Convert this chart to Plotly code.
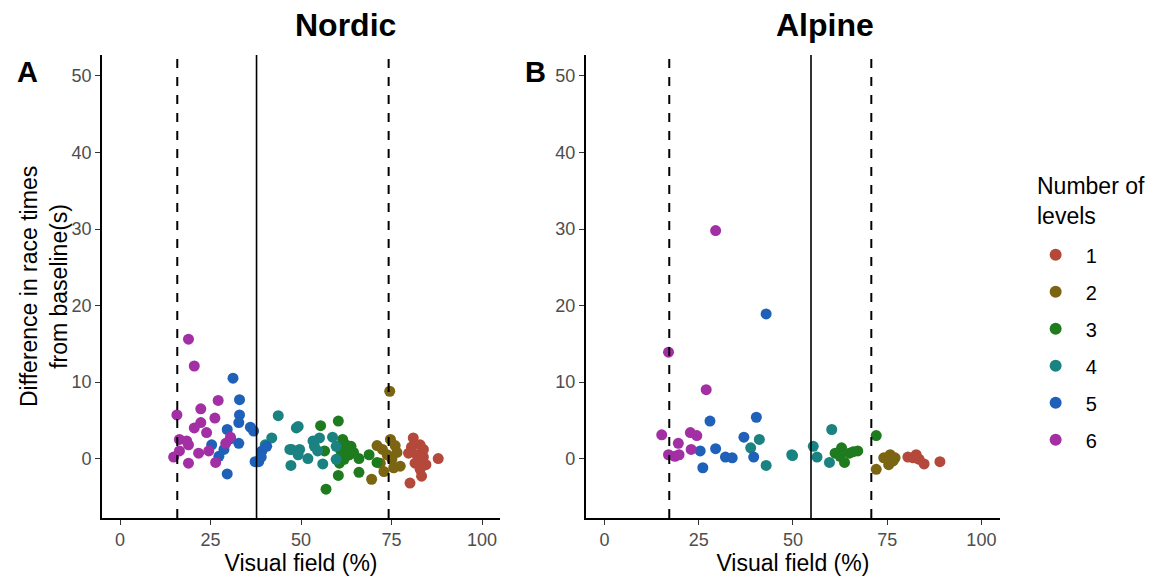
import plotly.graph_objects as go

levels = ["1", "2", "3", "4", "5", "6"]
colors = ["#b4493b", "#7b6513", "#1e7b1e", "#1b8282", "#1f60b8", "#a22fa3"]

# Nordic (panel A): visual field (%) and race time difference (s) per number of levels
nordic_x = {
    "1": [81.0, 82.9, 83.8, 79.7, 82.0, 82.9, 81.5, 87.9, 83.3, 80.1, 82.9, 83.8, 84.5, 80.5],
    "2": [74.5, 71.0, 74.7, 76.0, 73.8, 75.1, 77.4, 72.9, 69.5, 75.6, 71.9, 76.5, 72.5],
    "3": [55.4, 60.3, 56.9, 60.3, 61.5, 62.4, 63.8, 63.3, 61.9, 66.0, 66.0, 68.8, 71.0, 56.5, 61.0, 60.6, 64.5],
    "4": [43.7, 41.9, 40.1, 47.2, 46.9, 48.7, 49.2, 47.4, 49.6, 49.2, 51.9, 53.3, 55.1, 54.6, 56.0, 58.7, 59.7, 59.7, 53.7],
    "5": [31.2, 33.0, 33.0, 32.8, 29.6, 36.0, 36.9, 25.3, 28.7, 32.8, 27.3, 29.6, 38.3, 39.2, 40.5, 37.3, 39.0, 30.5],
    "6": [18.9, 20.5, 15.7, 27.1, 22.3, 26.2, 22.3, 20.5, 23.9, 16.4, 18.4, 18.9, 14.8, 16.4, 21.7, 18.9, 26.4, 29.2, 30.5, 24.5],
}
nordic_y = {
    "1": [2.7, 1.8, 1.2, 0.7, 0.5, -0.1, -0.6, 0.0, -2.3, -3.2, -1.4, 0.2, -0.8, 1.5],
    "2": [8.8, 1.7, 2.5, 1.7, 0.5, -0.1, -1.0, -1.7, -2.7, -1.2, -0.6, 0.8, 1.2],
    "3": [4.3, 4.9, -4.0, -2.2, 2.5, 1.8, 1.6, 0.5, -0.1, 0.0, -1.8, 0.5, -0.5, 1.0, 1.0, -0.6, 0.8],
    "4": [5.6, 2.7, 1.8, -0.9, 1.2, 4.0, 4.2, 1.2, 1.2, 0.5, 0.0, 2.3, 2.7, 1.0, -0.7, 2.8, 1.6, -0.1, 1.6],
    "5": [10.5, 7.7, 5.7, 4.7, 3.8, 4.1, 3.6, 1.8, 1.2, 2.0, 0.3, -2.0, -0.4, 1.0, 1.6, -0.4, 0.2, 2.6],
    "6": [15.6, 12.1, 5.7, 7.6, 6.5, 5.3, 4.7, 4.0, 3.4, 2.5, 2.3, 1.8, 0.2, 1.0, 0.7, -0.6, -0.5, 2.0, 2.8, 1.0],
}

# Alpine (panel B)
alpine_x = {
    "1": [80.5, 82.7, 83.5, 84.8, 89.0, 81.9],
    "2": [72.1, 74.1, 75.8, 77.1, 75.4, 76.6],
    "3": [62.9, 61.2, 63.7, 65.0, 67.2, 66.0, 72.1, 62.5],
    "4": [41.1, 38.8, 42.9, 49.9, 49.7, 55.4, 60.3, 56.4, 59.7],
    "5": [42.9, 28.0, 40.3, 37.0, 25.4, 29.5, 32.1, 33.9, 39.6, 26.1],
    "6": [29.5, 17.0, 27.0, 15.2, 22.8, 24.5, 19.6, 23.0, 17.0, 18.7, 19.8],
}
alpine_y = {
    "1": [0.2, 0.5, -0.1, -0.7, -0.4, 0.1],
    "2": [-1.4, 0.1, 0.5, 0.1, -0.8, -0.3],
    "3": [1.4, 0.7, -0.5, 0.7, 1.0, 0.9, 3.0, 0.3],
    "4": [2.5, 1.4, -0.9, 0.4, 0.5, 1.6, 3.8, 0.2, -0.5],
    "5": [18.9, 4.9, 5.4, 2.8, 1.0, 1.3, 0.2, 0.1, 0.2, -1.2],
    "6": [29.8, 13.9, 9.0, 3.1, 3.4, 3.0, 2.0, 1.2, 0.5, 0.3, 0.5],
}

nordic_lines = {"dashed": [15.8, 74.2], "solid": [37.7]}
alpine_lines = {"dashed": [17.2, 70.8], "solid": [54.8]}

x_ticks = [0, 25, 50, 75, 100]
y_ticks = [0, 10, 20, 30, 40, 50]

FONT = "Liberation Sans, Arial, sans-serif"

fig = go.Figure()
for i, lv in enumerate(levels):
    fig.add_trace(go.Scatter(
        x=nordic_x[lv], y=nordic_y[lv], mode="markers", name=lv,
        legendgroup=lv, showlegend=True,
        marker=dict(color=colors[i], size=11, line=dict(width=0)),
        xaxis="x", yaxis="y"))
    fig.add_trace(go.Scatter(
        x=alpine_x[lv], y=alpine_y[lv], mode="markers", name=lv,
        legendgroup=lv, showlegend=False,
        marker=dict(color=colors[i], size=11, line=dict(width=0)),
        xaxis="x2", yaxis="y2"))

shapes = []
for xr, yr, lines in [("x", "y domain", nordic_lines), ("x2", "y2 domain", alpine_lines)]:
    for v in lines["dashed"]:
        shapes.append(dict(type="line", xref=xr, yref=yr, x0=v, x1=v, y0=0, y1=1,
                           line=dict(color="black", width=2, dash="dash")))
    for v in lines["solid"]:
        shapes.append(dict(type="line", xref=xr, yref=yr, x0=v, x1=v, y0=0, y1=1,
                           line=dict(color="black", width=1.6)))

axis_common = dict(
    showgrid=False, zeroline=False, showline=True, linecolor="black", linewidth=1.5,
    ticks="outside", ticklen=5, tickcolor="#333333", tickwidth=1,
    tickfont=dict(family=FONT, size=18, color="#4d4d4d"),
)
xtitle = dict(text="Visual field (%)", font=dict(family=FONT, size=23, color="black"), standoff=2)

fig.update_layout(
    width=1155, height=578,
    margin=dict(l=0, r=0, t=0, b=0),
    paper_bgcolor="white", plot_bgcolor="white",
    font=dict(family=FONT, color="black"),
    xaxis=dict(domain=[0.0883, 0.433], range=[-5, 105], tickvals=x_ticks, anchor="y",
               title=xtitle, **axis_common),
    yaxis=dict(domain=[0.104, 0.905], range=[-7.75, 52.75], tickvals=y_ticks, anchor="x",
               **axis_common),
    xaxis2=dict(domain=[0.507, 0.866], range=[-5, 105], tickvals=x_ticks, anchor="y2",
                title=xtitle, **axis_common),
    yaxis2=dict(domain=[0.104, 0.905], range=[-7.75, 52.75], tickvals=y_ticks, anchor="x2",
                **axis_common),
    shapes=shapes,
    showlegend=True,
    legend=dict(
        x=0.888, y=0.593, xanchor="left", yanchor="top",
        font=dict(family=FONT, size=20, color="black"),
        traceorder="grouped", tracegroupgap=8, itemwidth=50,
        itemsizing="constant", bgcolor="rgba(0,0,0,0)",
    ),
    annotations=[
        dict(text="<b>Nordic</b>", x=0.299, y=0.957, xref="paper", yref="paper",
             showarrow=False, font=dict(family=FONT, size=32, color="black"), xanchor="center", yanchor="middle"),
        dict(text="<b>Alpine</b>", x=0.7145, y=0.957, xref="paper", yref="paper",
             showarrow=False, font=dict(family=FONT, size=32, color="black"), xanchor="center", yanchor="middle"),
        dict(text="<b>A</b>", x=0.024, y=0.875, xref="paper", yref="paper",
             showarrow=False, font=dict(family=FONT, size=29, color="black"), xanchor="center", yanchor="middle"),
        dict(text="<b>B</b>", x=0.464, y=0.875, xref="paper", yref="paper",
             showarrow=False, font=dict(family=FONT, size=29, color="black"), xanchor="center", yanchor="middle"),
        dict(text="Difference in race times<br>from baseline(s)", x=0.038, y=0.505,
             xref="paper", yref="paper", showarrow=False, textangle=-90,
             font=dict(family=FONT, size=23, color="black"), xanchor="center", yanchor="middle"),
        dict(text="Number of<br>levels", x=0.896, y=0.705, xref="paper", yref="paper",
             showarrow=False, align="left", xanchor="left", yanchor="top",
             font=dict(family=FONT, size=23, color="black")),
    ],
)

fig.write_html("out.html")
